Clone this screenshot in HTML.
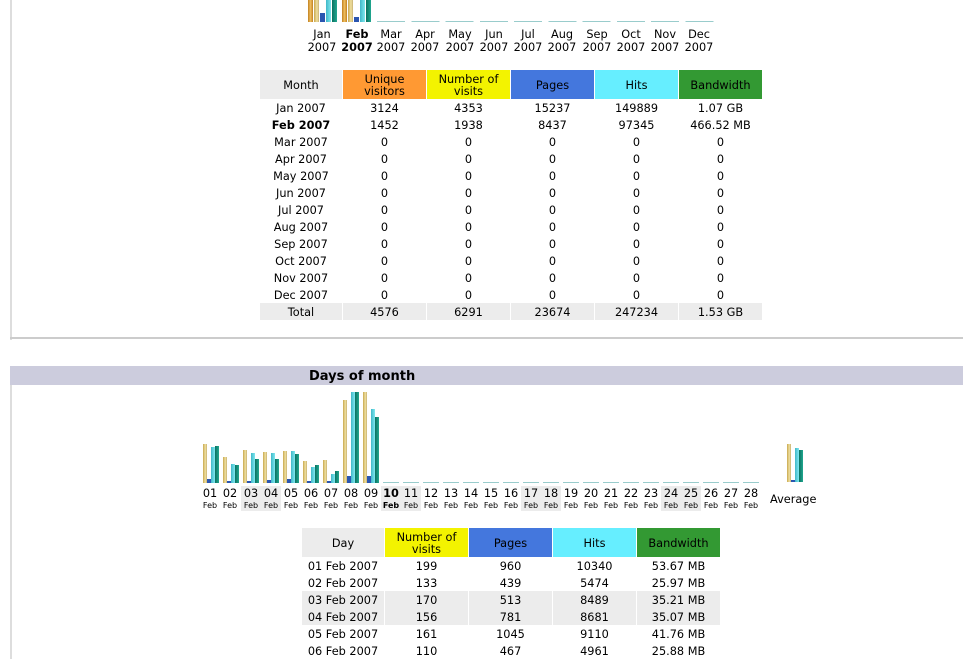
<!DOCTYPE html>
<html><head><meta charset="utf-8"><style>
body{margin:0;width:963px;height:659px;overflow:hidden;background:#fff;font-family:"DejaVu Sans","Liberation Sans",sans-serif;font-size:11px;color:#000;position:relative}
.a{position:absolute}
.b{position:absolute;bottom:0;width:4px}
.v{background:linear-gradient(90deg,#c8a850,#f0e0a0 60%,#c8b070)}
.u{background:linear-gradient(90deg,#c08020,#f0c060,#c08020)}
.p{background:#2a55b0}
.h{background:linear-gradient(90deg,#40b8c8,#80e8f0)}
.w{background:linear-gradient(90deg,#0a7060,#20a890)}
table{position:absolute;border-collapse:separate;border-spacing:1px 0;table-layout:fixed;font-size:11.3px}
td{padding:3px 0 0 0;text-align:center;height:14px;line-height:14px;white-space:nowrap;overflow:hidden}
th{font-weight:normal;height:27px;line-height:12px;padding:2px 0 0 0}
.g td{background:#ececec}
.ml{position:absolute;width:34px;text-align:center;top:28px;line-height:13px;font-size:11.3px}
.dl{position:absolute;width:20px;text-align:center;top:486px;height:25px}
.dl span{display:block;font-size:11.3px;line-height:15px}
.dl i{display:block;font-style:normal;font-size:8px;line-height:9px}
.we{background:#ececec}
</style></head><body>
<div class="a" style="left:10px;top:0;width:2px;height:340px;background:#ddd"></div>
<div class="a" style="left:10px;top:337px;width:953px;height:2px;background:#ccc"></div>

<div class="a" style="left:308px;top:0;width:30px;height:22px">
<div class="b u" style="left:0;width:5px;height:22px"></div><div class="b v" style="left:6px;width:5px;height:22px"></div><div class="b p" style="left:12px;width:5px;height:9px"></div><div class="b h" style="left:18px;width:5px;height:22px"></div><div class="b w" style="left:24px;width:5px;height:22px"></div></div>
<div class="a" style="left:342px;top:0;width:30px;height:22px">
<div class="b u" style="left:0;width:5px;height:22px"></div><div class="b v" style="left:6px;width:5px;height:22px"></div><div class="b p" style="left:12px;width:5px;height:5px"></div><div class="b h" style="left:18px;width:5px;height:22px"></div><div class="b w" style="left:24px;width:5px;height:22px"></div></div>
<div class="a" style="left:377px;top:21px;width:337px;height:1px;background:repeating-linear-gradient(90deg,#9cc 0 28px,#fff 28px 34.27px)"></div>

<div class="ml" style="left:305px">Jan<br>2007</div>
<div class="ml" style="left:340px;font-weight:bold">Feb<br>2007</div>
<div class="ml" style="left:374px">Mar<br>2007</div>
<div class="ml" style="left:408px">Apr<br>2007</div>
<div class="ml" style="left:443px">May<br>2007</div>
<div class="ml" style="left:477px">Jun<br>2007</div>
<div class="ml" style="left:511px">Jul<br>2007</div>
<div class="ml" style="left:545px">Aug<br>2007</div>
<div class="ml" style="left:580px">Sep<br>2007</div>
<div class="ml" style="left:614px">Oct<br>2007</div>
<div class="ml" style="left:648px">Nov<br>2007</div>
<div class="ml" style="left:682px">Dec<br>2007</div>

<table style="left:259px;top:70px;width:504px">
<colgroup><col style="width:82px"><col style="width:83px"><col style="width:83px"><col style="width:83px"><col style="width:83px"><col style="width:83px"></colgroup>
<tr><th style="background:#ececec">Month</th><th style="background:#f93">Unique<br>visitors</th><th style="background:#f3f300">Number of<br>visits</th><th style="background:#4477dd">Pages</th><th style="background:#6ef">Hits</th><th style="background:#393">Bandwidth</th></tr>
<tr><td>Jan 2007</td><td>3124</td><td>4353</td><td>15237</td><td>149889</td><td>1.07 GB</td></tr>
<tr><td><b>Feb 2007</b></td><td>1452</td><td>1938</td><td>8437</td><td>97345</td><td>466.52 MB</td></tr>
<tr><td>Mar 2007</td><td>0</td><td>0</td><td>0</td><td>0</td><td>0</td></tr>
<tr><td>Apr 2007</td><td>0</td><td>0</td><td>0</td><td>0</td><td>0</td></tr>
<tr><td>May 2007</td><td>0</td><td>0</td><td>0</td><td>0</td><td>0</td></tr>
<tr><td>Jun 2007</td><td>0</td><td>0</td><td>0</td><td>0</td><td>0</td></tr>
<tr><td>Jul 2007</td><td>0</td><td>0</td><td>0</td><td>0</td><td>0</td></tr>
<tr><td>Aug 2007</td><td>0</td><td>0</td><td>0</td><td>0</td><td>0</td></tr>
<tr><td>Sep 2007</td><td>0</td><td>0</td><td>0</td><td>0</td><td>0</td></tr>
<tr><td>Oct 2007</td><td>0</td><td>0</td><td>0</td><td>0</td><td>0</td></tr>
<tr><td>Nov 2007</td><td>0</td><td>0</td><td>0</td><td>0</td><td>0</td></tr>
<tr><td>Dec 2007</td><td>0</td><td>0</td><td>0</td><td>0</td><td>0</td></tr>
<tr class="g"><td>Total</td><td>4576</td><td>6291</td><td>23674</td><td>247234</td><td>1.53 GB</td></tr>
</table>

<div class="a" style="left:10px;top:366px;width:953px;height:19px;background:#ccd"></div>
<div class="a" style="left:309px;top:368px;font-weight:bold;font-size:13px;line-height:18px">Days of month</div>
<div class="a" style="left:10px;top:385px;width:2px;height:274px;background:#ddd"></div>

<div class="a we" style="left:241px;top:486px;width:40px;height:25px"></div>
<div class="a we" style="left:381px;top:486px;width:40px;height:25px"></div>
<div class="a we" style="left:521px;top:486px;width:40px;height:25px"></div>
<div class="a we" style="left:661px;top:486px;width:40px;height:25px"></div>

<div class="a" style="left:203px;top:383px;width:16px;height:100px"><div class="b v" style="left:0;height:39px"></div><div class="b p" style="left:4px;height:4px"></div><div class="b h" style="left:8px;height:36px"></div><div class="b w" style="left:12px;height:37px"></div></div>
<div class="a" style="left:223px;top:383px;width:16px;height:100px"><div class="b v" style="left:0;height:26px"></div><div class="b p" style="left:4px;height:2px"></div><div class="b h" style="left:8px;height:19px"></div><div class="b w" style="left:12px;height:18px"></div></div>
<div class="a" style="left:243px;top:383px;width:16px;height:100px"><div class="b v" style="left:0;height:33px"></div><div class="b p" style="left:4px;height:2px"></div><div class="b h" style="left:8px;height:30px"></div><div class="b w" style="left:12px;height:24px"></div></div>
<div class="a" style="left:263px;top:383px;width:16px;height:100px"><div class="b v" style="left:0;height:31px"></div><div class="b p" style="left:4px;height:3px"></div><div class="b h" style="left:8px;height:30px"></div><div class="b w" style="left:12px;height:24px"></div></div>
<div class="a" style="left:283px;top:383px;width:16px;height:100px"><div class="b v" style="left:0;height:32px"></div><div class="b p" style="left:4px;height:4px"></div><div class="b h" style="left:8px;height:32px"></div><div class="b w" style="left:12px;height:29px"></div></div>
<div class="a" style="left:303px;top:383px;width:16px;height:100px"><div class="b v" style="left:0;height:22px"></div><div class="b p" style="left:4px;height:2px"></div><div class="b h" style="left:8px;height:16px"></div><div class="b w" style="left:12px;height:18px"></div></div>
<div class="a" style="left:323px;top:383px;width:16px;height:100px"><div class="b v" style="left:0;height:23px"></div><div class="b p" style="left:4px;height:2px"></div><div class="b h" style="left:8px;height:9px"></div><div class="b w" style="left:12px;height:12px"></div></div>
<div class="a" style="left:343px;top:383px;width:16px;height:100px"><div class="b v" style="left:0;height:83px"></div><div class="b p" style="left:4px;height:7px"></div><div class="b h" style="left:8px;height:91px"></div><div class="b w" style="left:12px;height:91px"></div></div>
<div class="a" style="left:363px;top:383px;width:16px;height:100px"><div class="b v" style="left:0;height:91px"></div><div class="b p" style="left:4px;height:7px"></div><div class="b h" style="left:8px;height:74px"></div><div class="b w" style="left:12px;height:66px"></div></div>
<div class="a" style="left:383px;top:482px;width:377px;height:1px;background:repeating-linear-gradient(90deg,#9cc 0 16px,#fff 16px 20px)"></div>
<div class="a" style="left:787px;top:383px;width:16px;height:99px"><div class="b v" style="left:0;height:38px"></div><div class="b p" style="left:4px;height:2px"></div><div class="b h" style="left:8px;height:34px"></div><div class="b w" style="left:12px;height:32px"></div></div>

<div class="dl" style="left:200px"><span>01</span><i>Feb</i></div>
<div class="dl" style="left:220px"><span>02</span><i>Feb</i></div>
<div class="dl" style="left:241px"><span>03</span><i>Feb</i></div>
<div class="dl" style="left:261px"><span>04</span><i>Feb</i></div>
<div class="dl" style="left:281px"><span>05</span><i>Feb</i></div>
<div class="dl" style="left:301px"><span>06</span><i>Feb</i></div>
<div class="dl" style="left:321px"><span>07</span><i>Feb</i></div>
<div class="dl" style="left:341px"><span>08</span><i>Feb</i></div>
<div class="dl" style="left:361px"><span>09</span><i>Feb</i></div>
<div class="dl" style="left:381px;font-weight:bold"><span>10</span><i>Feb</i></div>
<div class="dl" style="left:401px"><span>11</span><i>Feb</i></div>
<div class="dl" style="left:421px"><span>12</span><i>Feb</i></div>
<div class="dl" style="left:441px"><span>13</span><i>Feb</i></div>
<div class="dl" style="left:461px"><span>14</span><i>Feb</i></div>
<div class="dl" style="left:481px"><span>15</span><i>Feb</i></div>
<div class="dl" style="left:501px"><span>16</span><i>Feb</i></div>
<div class="dl" style="left:521px"><span>17</span><i>Feb</i></div>
<div class="dl" style="left:541px"><span>18</span><i>Feb</i></div>
<div class="dl" style="left:561px"><span>19</span><i>Feb</i></div>
<div class="dl" style="left:581px"><span>20</span><i>Feb</i></div>
<div class="dl" style="left:601px"><span>21</span><i>Feb</i></div>
<div class="dl" style="left:621px"><span>22</span><i>Feb</i></div>
<div class="dl" style="left:641px"><span>23</span><i>Feb</i></div>
<div class="dl" style="left:661px"><span>24</span><i>Feb</i></div>
<div class="dl" style="left:681px"><span>25</span><i>Feb</i></div>
<div class="dl" style="left:701px"><span>26</span><i>Feb</i></div>
<div class="dl" style="left:721px"><span>27</span><i>Feb</i></div>
<div class="dl" style="left:741px"><span>28</span><i>Feb</i></div>
<div class="a" style="left:770px;top:493px;font-size:11.3px">Average</div>

<table style="left:301px;top:528px;width:420px">
<colgroup><col style="width:82px"><col style="width:83px"><col style="width:83px"><col style="width:83px"><col style="width:83px"></colgroup>
<tr><th style="background:#ececec;height:26px">Day</th><th style="background:#f3f300">Number of<br>visits</th><th style="background:#4477dd">Pages</th><th style="background:#6ef">Hits</th><th style="background:#393">Bandwidth</th></tr>
<tr><td>01 Feb 2007</td><td>199</td><td>960</td><td>10340</td><td>53.67 MB</td></tr>
<tr><td>02 Feb 2007</td><td>133</td><td>439</td><td>5474</td><td>25.97 MB</td></tr>
<tr class="g"><td>03 Feb 2007</td><td>170</td><td>513</td><td>8489</td><td>35.21 MB</td></tr>
<tr class="g"><td>04 Feb 2007</td><td>156</td><td>781</td><td>8681</td><td>35.07 MB</td></tr>
<tr><td>05 Feb 2007</td><td>161</td><td>1045</td><td>9110</td><td>41.76 MB</td></tr>
<tr><td>06 Feb 2007</td><td>110</td><td>467</td><td>4961</td><td>25.88 MB</td></tr>
</table>
</body></html>
